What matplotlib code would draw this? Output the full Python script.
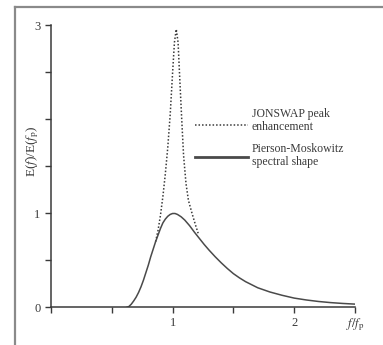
import matplotlib.pyplot as plt
from matplotlib.lines import Line2D

plt.rcParams['font.family'] = ['Liberation Serif', 'DejaVu Serif']
plt.rcParams['mathtext.fontset'] = 'stix'

# Pierson-Moskowitz spectral shape
pm_f = [0.62, 0.64, 0.66, 0.68, 0.70, 0.72, 0.74, 0.76, 0.78, 0.80, 0.82,
        0.84, 0.86, 0.88, 0.90, 0.92, 0.94, 0.96, 0.98, 1.00, 1.02, 1.04,
        1.07, 1.10, 1.14, 1.18, 1.22, 1.26, 1.30, 1.35, 1.40, 1.45, 1.50,
        1.55, 1.60, 1.70, 1.80, 1.90, 2.00, 2.10, 2.20, 2.30, 2.40, 2.50]
pm_e = [0.0, 0.01, 0.035, 0.07, 0.11, 0.16, 0.22, 0.29, 0.37, 0.45, 0.54,
        0.62, 0.70, 0.77, 0.84, 0.90, 0.94, 0.97, 0.99, 1.00, 1.00, 0.99,
        0.965, 0.93, 0.87, 0.80, 0.735, 0.67, 0.61, 0.54, 0.475, 0.415, 0.36,
        0.315, 0.275, 0.21, 0.165, 0.13, 0.10, 0.08, 0.064, 0.052, 0.043, 0.036]

# JONSWAP peak enhancement
js_f = [0.86, 0.88, 0.90, 0.92, 0.94, 0.96, 0.98, 1.00, 1.015, 1.03,
        1.045, 1.06, 1.075, 1.09, 1.11, 1.13, 1.16, 1.19, 1.21]
js_e = [0.70, 0.82, 0.98, 1.18, 1.42, 1.70, 2.05, 2.50, 2.82, 2.96,
        2.82, 2.40, 2.00, 1.62, 1.32, 1.14, 1.00, 0.87, 0.79]

x_ticks = [0, 0.5, 1, 1.5, 2, 2.5]
x_labels = ['', '', '1', '', '2', r'$f/f_\mathrm{p}$']
y_ticks = [0, 0.5, 1, 1.5, 2, 2.5, 3]
y_labels = ['0', '', '1', '', '', '', '3']

ink = '#3a3a3a'

fig = plt.figure(figsize=(3.83, 3.45), dpi=100)
ax = fig.add_axes([0.1332, 0.1087, 0.7937, 0.8174])

ax.plot(js_f, js_e, color=ink, lw=1.1, linestyle=(0, (1, 1.3)))
ax.plot(pm_f, pm_e, color='#4a4a4a', lw=1.1)

ax.set_xlim(0, 2.5)
ax.set_ylim(0, 3)
ax.set_xticks(x_ticks)
ax.set_xticklabels(x_labels)
ax.set_yticks(y_ticks)
ax.set_yticklabels(y_labels)
ax.tick_params(direction='out', length=4.5, width=1, colors=ink,
               labelsize=9, pad=2)
ax.tick_params(axis='y', pad=3)
for s in ['top', 'right']:
    ax.spines[s].set_visible(False)
for s in ['left', 'bottom']:
    ax.spines[s].set_color(ink)
    ax.spines[s].set_linewidth(1.1)

ax.text(-0.06, 1.66, r'E($f$)/E($f_\mathrm{p}$)', transform=ax.get_yaxis_transform(),
        rotation=90, ha='center', va='center', fontsize=9.5, color=ink)

# legend drawn by hand
ax.add_line(Line2D([0.474, 0.648], [0.647, 0.647], transform=ax.transAxes,
                   color=ink, lw=1.1, linestyle=(0, (1, 1.3))))
ax.add_line(Line2D([0.474, 0.648], [0.534, 0.534], transform=ax.transAxes,
                   color='#4a4a4a', lw=2))
ax.text(0.661, 0.663, 'JONSWAP peak\nenhancement', transform=ax.transAxes,
        ha='left', va='center', fontsize=8.5, color=ink, linespacing=1.05)
ax.text(0.661, 0.539, 'Pierson-Moskowitz\nspectral shape', transform=ax.transAxes,
        ha='left', va='center', fontsize=8.5, color=ink, linespacing=1.05)

# grey frame on the left and top edges of the picture
fig.add_artist(Line2D([14.5 / 383, 14.5 / 383], [0, 1 - 6.5 / 345],
                      transform=fig.transFigure, color='#8a8a8a', lw=1.6))
fig.add_artist(Line2D([14.5 / 383, 1], [1 - 6.5 / 345, 1 - 6.5 / 345],
                      transform=fig.transFigure, color='#8a8a8a', lw=1.6))

fig.savefig('out.png', dpi=100)
